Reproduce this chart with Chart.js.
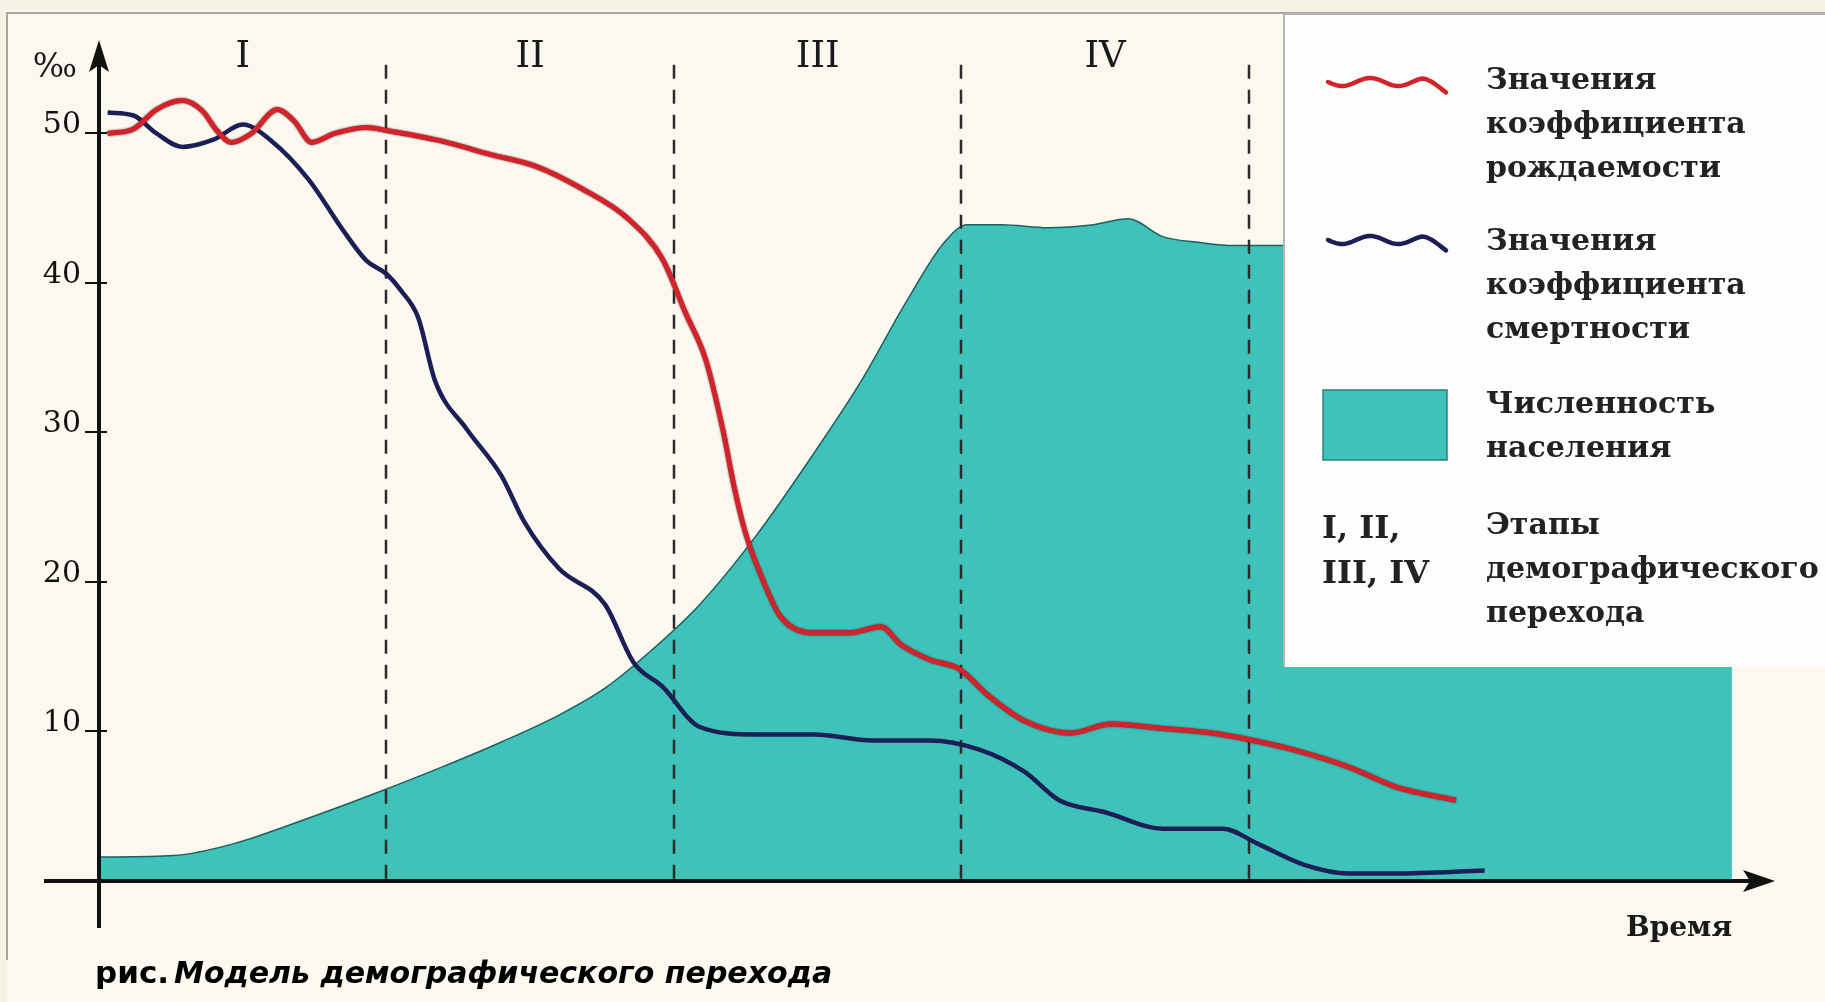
<!DOCTYPE html>
<html lang="ru">
<head>
<meta charset="utf-8">
<title>Модель демографического перехода</title>
<script src="https://cdn.jsdelivr.net/npm/chart.js@4.4.1/dist/chart.umd.min.js"></script>
<style>
  html, body { margin: 0; padding: 0; background: #f6f3e6; overflow: hidden; }
  #demoChart { display: block; }
</style>
</head>
<body>
<canvas id="demoChart" width="1825" height="1002"></canvas>
<script>
(function () {
  "use strict";

  // stages of the transition (x = 1 unit per stage)
  var stageNames = ["I", "II", "III", "IV"];
  var stageBounds = [1, 2, 3, 4];
  var yTicks = [10, 20, 30, 40, 50];

  // birth rate, ‰
  var birthX = [0.03, 0.12, 0.2, 0.29, 0.36, 0.41, 0.46, 0.53, 0.62, 0.68, 0.74, 0.82, 0.93, 1.0,
    1.19, 1.36, 1.52, 1.68, 1.84, 1.96, 2.04, 2.11, 2.17, 2.21, 2.25, 2.31, 2.37, 2.49, 2.61,
    2.72, 2.79, 2.89, 2.99, 3.1, 3.22, 3.38, 3.52, 3.7, 3.87, 3.99, 4.15, 4.35, 4.51, 4.72];
  var birthY = [50.0, 50.3, 51.6, 52.2, 51.5, 50.2, 49.4, 50.0, 51.6, 50.8, 49.4, 50.0, 50.4, 50.2,
    49.5, 48.6, 47.8, 46.3, 44.3, 41.6, 38.0, 34.9, 30.2, 26.3, 23.2, 20.1, 17.7, 16.6, 16.6,
    17.0, 15.8, 14.8, 14.2, 12.3, 10.7, 9.9, 10.5, 10.2, 9.9, 9.5, 8.8, 7.6, 6.3, 5.4];

  // death rate, ‰
  var deathX = [0.03, 0.12, 0.2, 0.29, 0.4, 0.5, 0.6, 0.73, 0.85, 0.93, 1.0, 1.05, 1.11, 1.17,
    1.28, 1.4, 1.48, 1.6, 1.76, 1.86, 1.96, 2.09, 2.29, 2.49, 2.69, 2.89, 3.06, 3.22, 3.34,
    3.5, 3.7, 3.91, 4.03, 4.19, 4.35, 4.51, 4.82];
  var deathY = [51.4, 51.2, 50.0, 49.1, 49.6, 50.6, 49.5, 46.9, 43.5, 41.5, 40.6, 39.5, 37.7, 33.4,
    30.2, 27.1, 24.0, 20.9, 18.5, 14.6, 13.0, 10.3, 9.8, 9.8, 9.4, 9.4, 8.8, 7.3, 5.4,
    4.6, 3.5, 3.5, 2.5, 1.1, 0.5, 0.5, 0.7];

  // population size (relative)
  var popX = [0, 0.26, 0.47, 0.67, 0.87, 0.98, 1.19, 1.4, 1.6, 1.76, 1.92, 2.09, 2.29, 2.49, 2.65,
    2.81, 2.94, 3.02, 3.14, 3.3, 3.46, 3.58, 3.7, 3.83, 3.95, 4.12, 4.6, 5.2, 5.68];
  var popY = [1.6, 1.7, 2.5, 3.8, 5.2, 6.0, 7.6, 9.3, 11.1, 12.9, 15.4, 18.5, 23.2, 28.7, 33.4,
    38.8, 42.7, 43.9, 43.9, 43.7, 43.9, 44.3, 43.1, 42.7, 42.5, 42.5, 42.5, 42.5, 42.5];

  var legendTexts = [
    ["Значения", "коэффициента", "рождаемости"],
    ["Значения", "коэффициента", "смертности"],
    ["Численность", "населения"],
    ["Этапы", "демографического", "перехода"]
  ];

  var RED = "#d2232a";
  var NAVY = "#1b1f55";
  var TEAL = "#3ec2ba";
  var SERIF = "'DejaVu Serif', serif";

  function toPoints(xs, ys) {
    return xs.map(function (x, i) {
      return { x: x, y: ys[i] };
    });
  }

  function wave(ctx, x0, x1, y, color) {
    ctx.save();
    ctx.strokeStyle = color;
    ctx.lineWidth = 4.5;
    ctx.lineCap = "round";
    ctx.beginPath();
    for (var x = x0; x <= x1; x += 2) {
      var t = (x - x0) / (x1 - x0);
      var dy = Math.sin(t * Math.PI * 4.2) * 4 + (t > 0.8 ? (t - 0.8) * 40 : 0);
      if (x === x0) ctx.moveTo(x, y + dy);
      else ctx.lineTo(x, y + dy);
    }
    ctx.stroke();
    ctx.restore();
  }

  var decorPlugin = {
    id: "decor",
    beforeDraw: function (chart) {
      var ctx = chart.ctx;
      ctx.save();
      ctx.fillStyle = "#faf8ef";
      ctx.fillRect(7, 13, chart.width - 7, chart.height - 13);
      ctx.strokeStyle = "#a8a69e";
      ctx.lineWidth = 2;
      ctx.beginPath();
      ctx.moveTo(7, 960);
      ctx.lineTo(7, 13);
      ctx.lineTo(chart.width, 13);
      ctx.stroke();
      ctx.restore();
    },
    beforeDatasetDraw: function (chart, args) {
      if (args.index !== 0) return;
      var ctx = chart.ctx;
      ctx.save();
      ctx.shadowColor = "rgba(70, 0, 20, 0.85)";
      ctx.shadowBlur = 2;
    },
    afterDatasetDraw: function (chart, args) {
      var ctx = chart.ctx;
      if (args.index === 0) {
        ctx.restore();
        return;
      }
      if (args.index !== 2) return;
      var xs = chart.scales.x;
      var ys = chart.scales.y;
      ctx.save();
      ctx.strokeStyle = "#2b2b2b";
      ctx.lineWidth = 2.5;
      ctx.setLineDash([14, 11]);
      stageBounds.forEach(function (v) {
        var px = Math.round(xs.getPixelForValue(v));
        ctx.beginPath();
        ctx.moveTo(px, ys.getPixelForValue(54.6));
        ctx.lineTo(px, ys.getPixelForValue(0));
        ctx.stroke();
      });
      ctx.restore();
    },
    afterDraw: function (chart) {
      var ctx = chart.ctx;
      var xs = chart.scales.x;
      var ys = chart.scales.y;
      var ox = xs.getPixelForValue(0);
      var oy = ys.getPixelForValue(0);
      var top = chart.chartArea.top;
      var right = chart.chartArea.right;

      ctx.save();
      ctx.strokeStyle = "#111";
      ctx.fillStyle = "#111";
      ctx.lineWidth = 4;

      // y axis with arrow
      ctx.beginPath();
      ctx.moveTo(ox, oy + 47);
      ctx.lineTo(ox, top + 20);
      ctx.stroke();
      ctx.beginPath();
      ctx.moveTo(ox, top);
      ctx.lineTo(ox - 10, top + 32);
      ctx.lineTo(ox, top + 25);
      ctx.lineTo(ox + 10, top + 32);
      ctx.closePath();
      ctx.fill();

      // x axis with arrow
      ctx.beginPath();
      ctx.moveTo(ox - 55, oy);
      ctx.lineTo(right - 20, oy);
      ctx.stroke();
      ctx.beginPath();
      ctx.moveTo(right, oy);
      ctx.lineTo(right - 32, oy - 11);
      ctx.lineTo(right - 25, oy);
      ctx.lineTo(right - 32, oy + 11);
      ctx.closePath();
      ctx.fill();

      // tick marks
      ctx.lineWidth = 2;
      yTicks.forEach(function (v) {
        var py = Math.round(ys.getPixelForValue(v));
        ctx.beginPath();
        ctx.moveTo(ox - 14, py);
        ctx.lineTo(ox + 8, py);
        ctx.stroke();
      });

      // unit and axis name
      ctx.fillStyle = "#1a1a1a";
      ctx.font = "33px " + SERIF;
      ctx.textAlign = "right";
      ctx.textBaseline = "middle";
      ctx.fillText("‰", ox - 22, top + 28);
      ctx.textAlign = "left";
      ctx.font = "bold 28px " + SERIF;
      ctx.fillText("Время", 1626, oy + 48);

      // stage names
      ctx.font = "37px " + SERIF;
      ctx.textAlign = "center";
      stageNames.forEach(function (name, i) {
        ctx.fillText(name, xs.getPixelForValue(i + 0.5), top + 17);
      });

      // caption
      ctx.fillStyle = "#000";
      ctx.textAlign = "left";
      ctx.font = "bold 31px 'DejaVu Sans', sans-serif";
      ctx.fillText("рис.", 95, 975);
      var w = ctx.measureText("рис.").width;
      ctx.font = "italic bold 30px 'DejaVu Sans', sans-serif";
      ctx.fillText("Модель демографического перехода", 95 + w + 5, 975);

      // legend box
      var lx = 1284;
      var ly = 14;
      ctx.fillStyle = "#fdfdfb";
      ctx.fillRect(lx, ly, chart.width - lx, 653);
      ctx.strokeStyle = "#b5b5b0";
      ctx.lineWidth = 2;
      ctx.beginPath();
      ctx.moveTo(lx, ly + 653);
      ctx.lineTo(lx, ly);
      ctx.lineTo(chart.width, ly);
      ctx.stroke();

      wave(ctx, 1328, 1446, 82, RED);
      wave(ctx, 1328, 1446, 240, NAVY);
      ctx.fillStyle = TEAL;
      ctx.fillRect(1323, 390, 124, 70);
      ctx.strokeStyle = "#2d7f79";
      ctx.lineWidth = 1.5;
      ctx.strokeRect(1323, 390, 124, 70);

      ctx.fillStyle = "#222";
      ctx.font = "bold 32px " + SERIF;
      ctx.fillText("I, II,", 1322, 530);
      ctx.fillText("III, IV", 1322, 575);

      var starts = [81, 242, 405, 526];
      ctx.font = "bold 30px " + SERIF;
      legendTexts.forEach(function (lines, i) {
        lines.forEach(function (line, j) {
          ctx.fillText(line, 1486, starts[i] + j * 44);
        });
      });
      ctx.restore();
    }
  };

  var ctx = document.getElementById("demoChart").getContext("2d");
  new Chart(ctx, {
    type: "line",
    data: {
      datasets: [
        {
          label: "Значения коэффициента рождаемости",
          data: toPoints(birthX, birthY),
          borderColor: RED,
          borderWidth: 5,
          cubicInterpolationMode: "monotone",
          pointRadius: 0,
          fill: false,
          order: 1
        },
        {
          label: "Значения коэффициента смертности",
          data: toPoints(deathX, deathY),
          borderColor: NAVY,
          borderWidth: 4.5,
          cubicInterpolationMode: "monotone",
          pointRadius: 0,
          fill: false,
          order: 2
        },
        {
          label: "Численность населения",
          data: toPoints(popX, popY),
          borderColor: "#1f5f5c",
          borderWidth: 1.5,
          backgroundColor: TEAL,
          cubicInterpolationMode: "monotone",
          pointRadius: 0,
          fill: "origin",
          order: 3
        }
      ]
    },
    options: {
      responsive: false,
      animation: false,
      layout: {
        padding: { left: 0, right: 50, top: 40, bottom: 121 }
      },
      plugins: {
        legend: { display: false },
        tooltip: { enabled: false }
      },
      scales: {
        x: {
          type: "linear",
          min: 0,
          max: 5.83,
          display: false
        },
        y: {
          type: "linear",
          min: 0,
          max: 56.25,
          afterFit: function (scale) {
            scale.width = 99;
          },
          afterBuildTicks: function (scale) {
            scale.ticks = yTicks.map(function (v) {
              return { value: v };
            });
          },
          grid: { display: false, drawTicks: false },
          border: { display: false },
          ticks: {
            padding: 18,
            labelOffset: -8,
            color: "#111",
            font: { family: "DejaVu Serif", size: 30 }
          }
        }
      }
    },
    plugins: [decorPlugin]
  });
})();
</script>
</body>
</html>
